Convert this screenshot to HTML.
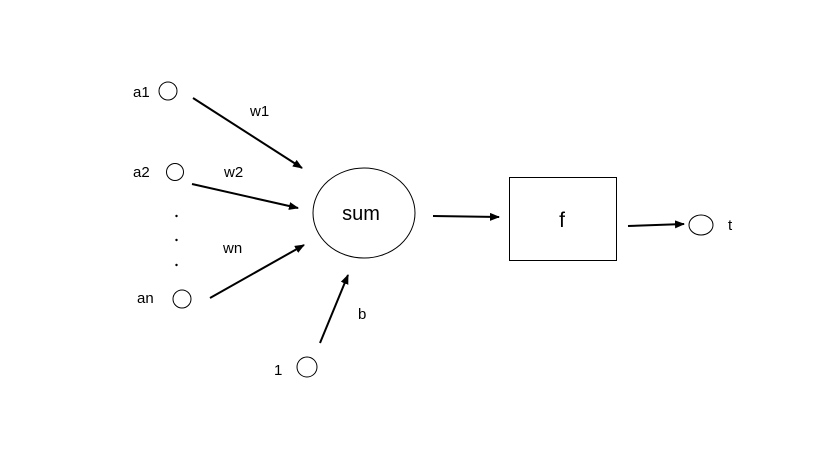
<!DOCTYPE html>
<html><head><meta charset="utf-8"><style>
html,body{margin:0;padding:0;background:#fff;}
svg{display:block;}
text{font-family:"Liberation Sans","DejaVu Sans",sans-serif;fill:#000;}
</style></head><body>
<svg width="819" height="476" viewBox="0 0 819 476" xmlns="http://www.w3.org/2000/svg">
<defs>
<marker id="ah" markerWidth="10" markerHeight="8" refX="9" refY="4" orient="auto" markerUnits="userSpaceOnUse">
<path d="M0,0 L10,4 L0,8 Z" fill="#000"/>
</marker>
</defs>
<rect width="819" height="476" fill="#fff"/>
<g fill="none" stroke="#000" stroke-width="1">
<circle cx="168" cy="91" r="9"/>
<circle cx="175" cy="172" r="8.5"/>
<circle cx="182" cy="299" r="9"/>
<circle cx="307" cy="367" r="10"/>
<ellipse cx="364" cy="213" rx="51" ry="45"/>
<rect x="509.5" y="177.5" width="107" height="83"/>
<ellipse cx="701" cy="225" rx="12" ry="10"/>
</g>
<g stroke="#000" stroke-width="2" marker-end="url(#ah)">
<line x1="193" y1="98" x2="302" y2="168"/>
<line x1="192" y1="184" x2="298" y2="208"/>
<line x1="210" y1="298" x2="304" y2="245"/>
<line x1="320" y1="343" x2="348" y2="275"/>
<line x1="433" y1="216" x2="499" y2="217"/>
<line x1="628" y1="226" x2="684" y2="224"/>
</g>
<g font-size="15">
<text x="133" y="97">a1</text>
<text x="250" y="116">w1</text>
<text x="133" y="177">a2</text>
<text x="224" y="177">w2</text>
<text x="223" y="253">wn</text>
<text x="137" y="303">an</text>
<text x="358" y="319">b</text>
<text x="274" y="375">1</text>
<text x="728" y="230">t</text>
</g>
<g fill="#000">
<circle cx="176.5" cy="216" r="1.2"/>
<circle cx="176.5" cy="240" r="1.2"/>
<circle cx="176.5" cy="265" r="1.2"/>
</g>
<text x="361" y="220" font-size="20" text-anchor="middle">sum</text>
<text x="562" y="227" font-size="21" text-anchor="middle">f</text>
</svg>
</body></html>
